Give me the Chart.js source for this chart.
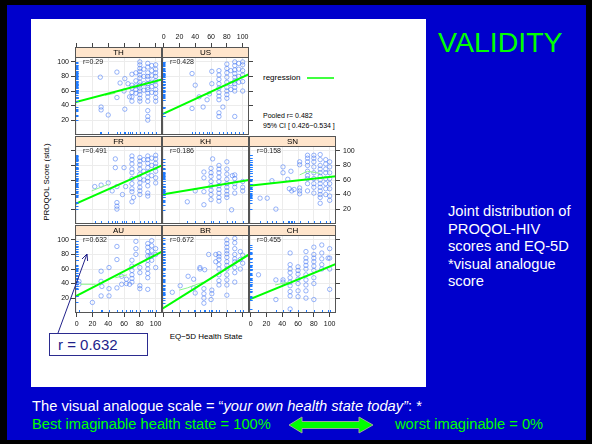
<!DOCTYPE html>
<html>
<head>
<meta charset="utf-8">
<script src="https://cdn.jsdelivr.net/npm/chart.js@4"></script>
<style>
body { margin: 0; width: 592px; height: 444px; background: #000; position: relative; overflow: hidden; font-family: 'Liberation Sans', Arial, sans-serif; }
#slide { position: absolute; left: 7px; top: 5px; width: 579px; height: 435px; background: #0000cc; }
#paper { position: absolute; left: 31px; top: 19px; width: 395px; height: 368px; background: #fff; }
canvas { position: absolute; }
.t { position: absolute; white-space: nowrap; }
svg { position: absolute; left: 0; top: 0; }
</style>
</head>
<body>
<div id="slide"></div>
<div id="paper"></div>

<div class="t" style="left:46px;top:182px;font-size:8px;transform:translate(-50%,-50%) rotate(-90deg);">PROQOL Score (std.)</div>
<div class="t" style="left:206px;top:332px;font-size:8px;transform:translateX(-50%);">EQ&minus;5D Health State</div>
<div class="t" style="left:263px;top:73px;font-size:8px;">regression</div>
<div class="t" id="pooled1" style="left:263px;top:112px;font-size:7px;"></div>
<div class="t" id="pooled2" style="left:263px;top:122px;font-size:7px;"></div>

<div class="t" style="left:49px;top:333px;width:97px;height:21px;border:1.5px solid #2b2b8f;"></div>
<div class="t" style="left:58px;top:336px;font-size:15px;color:#22228a;">r = 0.632</div>

<div class="t" style="left:438px;top:26px;font-size:28.5px;color:#00ff00;">VALIDITY</div>
<div class="t" style="left:448px;top:203px;font-size:14.7px;line-height:17.5px;color:#fff;">Joint distribution of<br>PROQOL-HIV<br>scores and EQ-5D<br>*visual analogue<br>score</div>

<div class="t" style="left:32px;top:398px;font-size:14.7px;color:#fff;">The visual analogue scale = &ldquo;<i>your own health state today&rdquo;</i>: *</div>
<div class="t" style="left:32px;top:416px;font-size:14.7px;color:#00ff00;">Best imaginable health state = 100%</div>
<div class="t" style="left:395px;top:416px;font-size:14.7px;color:#00ff00;">worst imaginable = 0%</div>

<script>
// tick values
const xTicks = [0, 20, 40, 60, 80, 100];
const yTicks = [20, 40, 60, 80, 100];

// panels (countries) and correlation labels
const panelNames = ['TH', 'US', 'FR', 'KH', 'SN', 'AU', 'BR', 'CH'];
const rLabels = ['0.29', '0.428', '0.491', '0.186', '0.158', '0.632', '0.672', '0.455'];
const pooledR = '0.482';
const pooledCI = ['0.426', '0.534'];

// regression line, value at x = -2 and x = 108
const fitX = [-2, 108];
const fitLeft = [44.5, 28, 27, 40, 52, 22, 5, 18];
const fitRight = [76, 83, 80, 60, 65, 84, 80, 67];

// EQ-5D (x), PROQOL score (y)
const ptsTH = [[30,79],[51,86],[55,71],[61,77],[70,83],[31,38],[31,34],[40,27],[51,51],[61,35],[60,60],[65,70],[67,52],
  [70,68],[70,64],[70,58],[70,52],[70,46],[75,85],[75,74],[75,67],[75,62],[75,57],
  [80,100],[80,96],[80,91],[80,87],[80,82],[80,78],[80,72],[80,68],[80,64],[80,60],[80,55],[80,50],[80,46],
  [85,90],[85,80],[85,70],[85,61],
  [90,98],[90,93],[90,85],[90,80],[90,76],[90,70],[90,65],[90,62],[90,57],[90,52],[90,46],[90,33],[90,25],[90,20],
  [95,95],[95,88],[95,81],[95,72],[95,66],[95,58],
  [100,96],[100,90],[100,85],[100,80],[100,74],[100,68],[100,62],[100,57],[100,51],[100,46]];
const ptsUS = [[36,84],[40,68],[36,36],[50,38],[61,87],[61,70],[45,52],[55,48],[58,56],
  [70,88],[70,82],[70,76],[70,70],[70,64],[70,58],[70,53],[70,48],[75,38],[70,30],[70,25],
  [80,97],[80,91],[80,85],[80,79],[80,72],[80,65],[80,60],[80,55],[80,50],
  [85,88],[85,70],[85,62],
  [90,100],[90,95],[90,89],[90,84],[90,79],[90,74],[90,70],[90,65],[90,60],[90,25],
  [95,98],[95,90],[95,80],[95,72],
  [100,100],[100,96],[100,88],[100,82],[100,73],[100,60]];
const ptsFR = [[23,51],[31,53],[40,56],[49,89],[49,77],[51,51],[51,29],[51,24],[51,20],[60,77],[62,51],[45,45],[58,40],
  [70,93],[70,88],[70,82],[70,75],[70,70],[70,62],[70,55],[70,48],[70,44],[72,36],[70,30],
  [80,91],[80,86],[80,81],[80,75],[80,68],[80,62],[80,56],[80,50],[80,45],[80,40],
  [85,88],[85,72],[85,60],
  [90,93],[90,88],[90,83],[90,77],[90,70],[90,63],[90,58],[90,52],[90,42],[90,38],
  [95,90],[95,80],[95,66],
  [100,94],[100,89],[100,83],[100,78],[100,72],[100,63],[100,56]];
const ptsKH = [[30,30],[40,45],[51,71],[51,63],[51,44],[51,26],[62,89],
  [60,76],[60,70],[60,65],[60,58],[60,52],[60,46],[60,40],[60,33],
  [70,80],[70,75],[70,70],[70,64],[70,58],[70,52],[70,47],[70,42],[70,36],[70,31],
  [80,85],[80,75],[80,68],[80,61],[80,55],[80,50],[80,45],[80,40],[80,36],
  [86,19],[87,66],
  [90,67],[90,62],[90,55],[90,50],[90,42],
  [100,58],[100,50],[100,45]];
const ptsSN = [[12,35],[21,35],[32,20],[27,59],[41,78],[41,70],[51,72],[47,61],[49,48],[52,45],[55,47],
  [62,85],[62,81],[62,49],[62,45],[62,41],
  [72,94],[72,90],[72,85],[72,80],[72,72],[72,66],[72,62],[72,55],[72,45],
  [80,94],[80,90],[80,85],[80,78],[80,70],[80,62],[80,55],[80,50],[80,42],
  [88,95],[88,88],[88,80],[88,75],[88,70],[88,65],[88,60],[88,55],[88,50],[88,45],[88,40],[88,36],[88,28],
  [95,88],[95,82],[95,75],[95,70],[95,62],[95,55],[95,48],[95,40],
  [100,85],[100,78],[100,70],[100,62],[100,55],[100,48],[100,38],[100,32]];
const ptsAU = [[3,43],[3,39],[20,14],[31,57],[31,43],[32,36],[31,23],[41,62],[41,33],[41,23],[51,91],[51,73],[51,34],
  [57,50],[57,39],[63,46],[63,40],[67,39],
  [70,72],[70,64],[70,58],[70,52],[70,47],[70,42],
  [75,98],[75,88],[75,80],
  [80,62],[80,55],[80,37],[80,33],
  [90,95],[90,90],[90,84],[90,78],[90,72],[90,66],[90,60],[90,54],[90,48],[90,32],
  [95,99],[95,92],[95,85],[95,78],[95,72],
  [100,62],[100,88],[100,80],[93,78]];
const ptsBR = [[11,28],[21,37],[31,50],[38,46],[38,34],[40,27],[46,62],[46,60],[51,33],[51,26],[51,20],[51,13],
  [52,59],[57,80],[60,18],[61,31],[61,26],[66,80],[66,70],
  [70,81],[70,77],[70,73],[70,66],[70,60],[70,52],[70,44],[70,38],
  [80,100],[80,95],[80,90],[80,85],[80,81],[80,76],[80,70],[80,65],[80,60],[80,52],[80,45],[80,38],[80,24],
  [90,102],[90,96],[90,88],[90,80],[90,74],[90,70],[90,62],[90,55],[90,42],
  [97,84],[97,73],[97,60],
  [100,79],[100,68]];
const ptsCH = [[10,52],[32,45],[32,18],[41,45],[41,42],
  [50,82],[50,66],[50,60],[50,55],[50,48],[50,42],[50,37],[50,29],[50,23],[50,5],
  [60,63],[60,58],[60,53],[60,46],[60,40],[60,30],[60,22],
  [70,84],[70,75],[70,70],[70,65],[70,60],[70,52],[70,45],[70,38],[70,30],[70,20],
  [80,90],[80,80],[80,75],[80,70],[80,64],[80,58],[80,48],[80,40],[80,18],
  [90,93],[90,82],[90,74],[90,66],[90,60],
  [98,75],
  [100,88],[100,75],[100,60],[100,32]];
const points = [ptsTH, ptsUS, ptsFR, ptsKH, ptsSN, ptsAU, ptsBR, ptsCH];

// thin smoother pieces (list of segments per panel)
const smooth = [
  [[[36,54],[49,57]]],
  [[[42,52],[61,57]]],
  [[[19,45],[40,54]]],
  [],
  [[[62,67],[72,72],[88,69]]],
  [[[5,39],[24,39]], [[49,48],[64,52]]],
  [[[20,31],[30,34],[50,42]]],
  [[[31,38],[48,42]]]
];

document.getElementById('pooled1').textContent = 'Pooled r= ' + pooledR;
document.getElementById('pooled2').textContent = '95% CI [ ' + pooledCI[0] + '\u2212' + pooledCI[1] + ' ]';

// layout of the lattice
const cells = [[0,0],[0,1],[1,0],[1,1],[1,2],[2,0],[2,1],[2,2]];
const stripFrom = 107;
const tickFont = { family: 'Liberation Sans', size: 7 };

function seg(ctx, x1, y1, x2, y2) {
  ctx.beginPath(); ctx.moveTo(x1, y1); ctx.lineTo(x2, y2); ctx.stroke();
}

function makePanel(i) {
  const row = cells[i][0], col = cells[i][1];
  const left = 75 + 87 * col, top = 47 + 89 * row;
  const lastInRow = i === 1 || i === 4 || i === 7;
  const pts = points[i];

  const cv = document.createElement('canvas');
  cv.width = 147; cv.height = 120;
  cv.style.left = (left - 30) + 'px';
  cv.style.top = (top - 16) + 'px';
  document.body.appendChild(cv);

  const decor = {
    id: 'decor',
    afterDatasetsDraw(chart) {
      const ctx = chart.ctx, a = chart.chartArea;
      const x = chart.scales.x, y = chart.scales.y;
      ctx.save();
      // rugs
      ctx.strokeStyle = '#1f7bff';
      ctx.lineWidth = 1;
      pts.forEach(p => {
        const py = Math.round(y.getPixelForValue(p[1])) + 0.5;
        seg(ctx, a.left, py, a.left + 3.5, py);
        const px = Math.round(x.getPixelForValue(p[0])) + 0.5;
        seg(ctx, px, a.bottom, px, a.bottom - 3);
      });
      // strip
      const sy = Math.round(y.getPixelForValue(stripFrom));
      ctx.fillStyle = '#ffe5cc';
      ctx.fillRect(a.left, a.top, a.width, sy - a.top);
      ctx.strokeStyle = '#555';
      seg(ctx, a.left, sy + 0.5, a.right, sy + 0.5);
      ctx.strokeRect(a.left + 0.5, a.top + 0.5, a.width - 1, a.height - 1);
      ctx.fillStyle = '#000';
      ctx.font = '8px "Liberation Sans"';
      ctx.textAlign = 'center';
      ctx.textBaseline = 'middle';
      ctx.fillText(panelNames[i], (a.left + a.right) / 2, (a.top + sy) / 2 + 0.5);
      ctx.font = '7px "Liberation Sans"';
      ctx.textAlign = 'left';
      ctx.fillStyle = '#222';
      ctx.fillText('r=' + rLabels[i], a.left + 8, sy + 5.5);
      ctx.restore();
    }
  };

  const datasets = [{
    data: fitX.map((v, k) => ({ x: v, y: k ? fitRight[i] : fitLeft[i] })),
    showLine: true, borderColor: '#00ff00', borderWidth: 2, pointRadius: 0, order: 0
  }];
  smooth[i].forEach(s => datasets.push({
    data: s.map(p => ({ x: p[0], y: p[1] })),
    showLine: true, borderColor: '#8cf58c', borderWidth: 1, pointRadius: 0, order: 1
  }));
  datasets.push({
    data: pts.map(p => ({ x: p[0], y: p[1] })),
    pointStyle: 'circle', pointRadius: 2.2, borderWidth: 0.8,
    borderColor: 'rgba(70,120,245,0.7)', backgroundColor: 'rgba(0,0,0,0)', order: 2
  });

  const setX = s => { s.ticks = xTicks.map(v => ({ value: v })); };
  const setY = s => { s.ticks = yTicks.map(v => ({ value: v })); };

  new Chart(cv, {
    type: 'scatter',
    data: { datasets: datasets },
    plugins: [decor],
    options: {
      responsive: false,
      devicePixelRatio: 1,
      animation: false,
      events: [],
      layout: { padding: 0, autoPadding: false },
      plugins: { legend: { display: false }, tooltip: { enabled: false } },
      scales: {
        x: {
          type: 'linear', position: 'bottom', min: -2, max: 108,
          afterBuildTicks: setX, afterFit: s => { s.height = 16; },
          border: { display: false },
          grid: { color: '#ececec', tickColor: '#444', drawTicks: row === 2, tickLength: 4 },
          ticks: { display: row === 2 && col !== 1, font: tickFont, color: '#111', padding: 3, autoSkip: false, maxRotation: 0 }
        },
        x2: {
          type: 'linear', position: 'top', min: -2, max: 108,
          afterBuildTicks: setX, afterFit: s => { s.height = 16; },
          border: { display: false },
          grid: { display: row === 0, drawOnChartArea: false, tickColor: '#444', tickLength: 4 },
          ticks: { display: row === 0 && col === 1, font: tickFont, color: '#111', padding: 2, autoSkip: false, maxRotation: 0 }
        },
        y: {
          type: 'linear', position: 'left', min: -0.5, max: 120.5,
          afterBuildTicks: setY, afterFit: s => { s.width = 30; },
          border: { display: false },
          grid: { color: '#ececec', tickColor: '#444', drawTicks: col === 0, tickLength: 4 },
          ticks: { display: col === 0 && row !== 1, font: tickFont, color: '#111', padding: 2, autoSkip: false }
        },
        y2: {
          type: 'linear', position: 'right', min: -0.5, max: 120.5,
          afterBuildTicks: setY, afterFit: s => { s.width = 30; },
          border: { display: false },
          grid: { display: lastInRow, drawOnChartArea: false, tickColor: '#444', tickLength: 4 },
          ticks: { display: lastInRow && row === 1, font: tickFont, color: '#111', padding: 3, autoSkip: false }
        }
      }
    }
  });
}

panelNames.forEach((n, i) => makePanel(i));
</script>

<svg width="592" height="444">
  <line x1="307" y1="78" x2="334" y2="78" stroke="#00ff00" stroke-width="1.5"/>
  <line x1="58" y1="333" x2="87" y2="254" stroke="#22228a" stroke-width="1"/>
  <polyline points="82,259 87,254 87.6,261" fill="none" stroke="#22228a" stroke-width="1"/>
  <polygon points="289,425 302,417 302,421.5 359,421.5 359,417 373,425 359,433 359,428.5 302,428.5 302,433" fill="#00ff00" stroke="#a0a0a0" stroke-width="1"/>
</svg>
</body>
</html>
